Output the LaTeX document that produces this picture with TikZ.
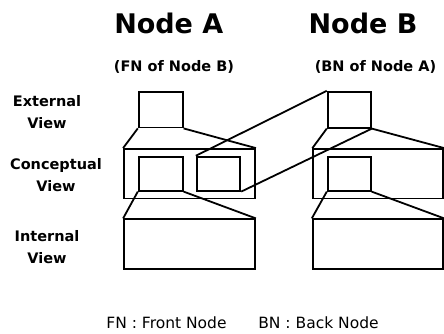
\documentclass[tikz,border=0pt]{standalone}
\usepackage{fontspec}
\setmainfont{DejaVu Sans}
\usepackage{tikz}

\tikzset{
	view/.style={draw, rectangle, line width=1.8pt, inner sep=0pt},
	edge/.style={line width=1.8pt},
	title/.style={font=\bfseries\fontsize{27}{32}\selectfont, anchor=base},
	subtitle/.style={font=\bfseries\fontsize{14.5}{17}\selectfont, anchor=base},
	level/.style={font=\bfseries\fontsize{14.5}{22}\selectfont, align=center},
	legend/.style={font=\fontsize{15.5}{18}\selectfont, anchor=base, inner sep=1pt}
}

\begin{document}
\begin{tikzpicture}[x=1pt, y=-1pt]
	\useasboundingbox (0,0) rectangle (444,333);

	\node[title] (nodeA) at (168.8,33.3) {Node A};
	\node[title] (nodeB) at (363,33.3) {Node B};
	\node[subtitle] (roleA) at (174,71) {(FN of Node B)};
	\node[subtitle] (roleB) at (375.5,71) {(BN of Node A)};

	\node[level] (extlabel) at (47,112) {External\\View};
	\node[level] (conclabel) at (56,175) {Conceptual\\View};
	\node[level] (intlabel) at (47,247) {Internal\\View};

	% node A
	\node[view, minimum width=44pt, minimum height=35.8pt] (extA) at (160.7,109.6) {};
	\node[view, minimum width=131pt, minimum height=49.5pt] (concA) at (189.5,173.75) {};
	\node[view, minimum width=44pt, minimum height=34pt] (mapA) at (160.7,173.7) {};
	\node[view, minimum width=43.6pt, minimum height=34pt] (linkA) at (218.5,173.7) {};
	\node[view, minimum width=131pt, minimum height=50pt] (intA) at (189.5,244.3) {};

	% node B
	\node[view, minimum width=43.3pt, minimum height=36pt] (extB) at (349.3,109.7) {};
	\node[view, minimum width=130pt, minimum height=49.5pt] (concB) at (378.3,173.75) {};
	\node[view, minimum width=43pt, minimum height=34pt] (mapB) at (349.2,173.7) {};
	\node[view, minimum width=130.6pt, minimum height=50pt] (intB) at (378,244.3) {};

	\draw[edge] (extA.south west) -- (concA.north west)
		(extA.south east) -- (concA.north east)
		(mapA.south west) -- (intA.north west)
		(mapA.south east) -- (intA.north east);
	\draw[edge] (extB.south west) -- (concB.north west)
		(extB.south east) -- (concB.north east)
		(mapB.south west) -- (intB.north west)
		(mapB.south east) -- (intB.north east);
	\draw[edge] (linkA.north west) -- (extB.north west)
		(linkA.south east) -- (extB.south east);

	\node[legend] (fnkey) at (166.5,328.5) {FN : Front Node};
	\node[legend] (bnkey) at (318.5,328.5) {BN : Back Node};
\end{tikzpicture}
\end{document}
